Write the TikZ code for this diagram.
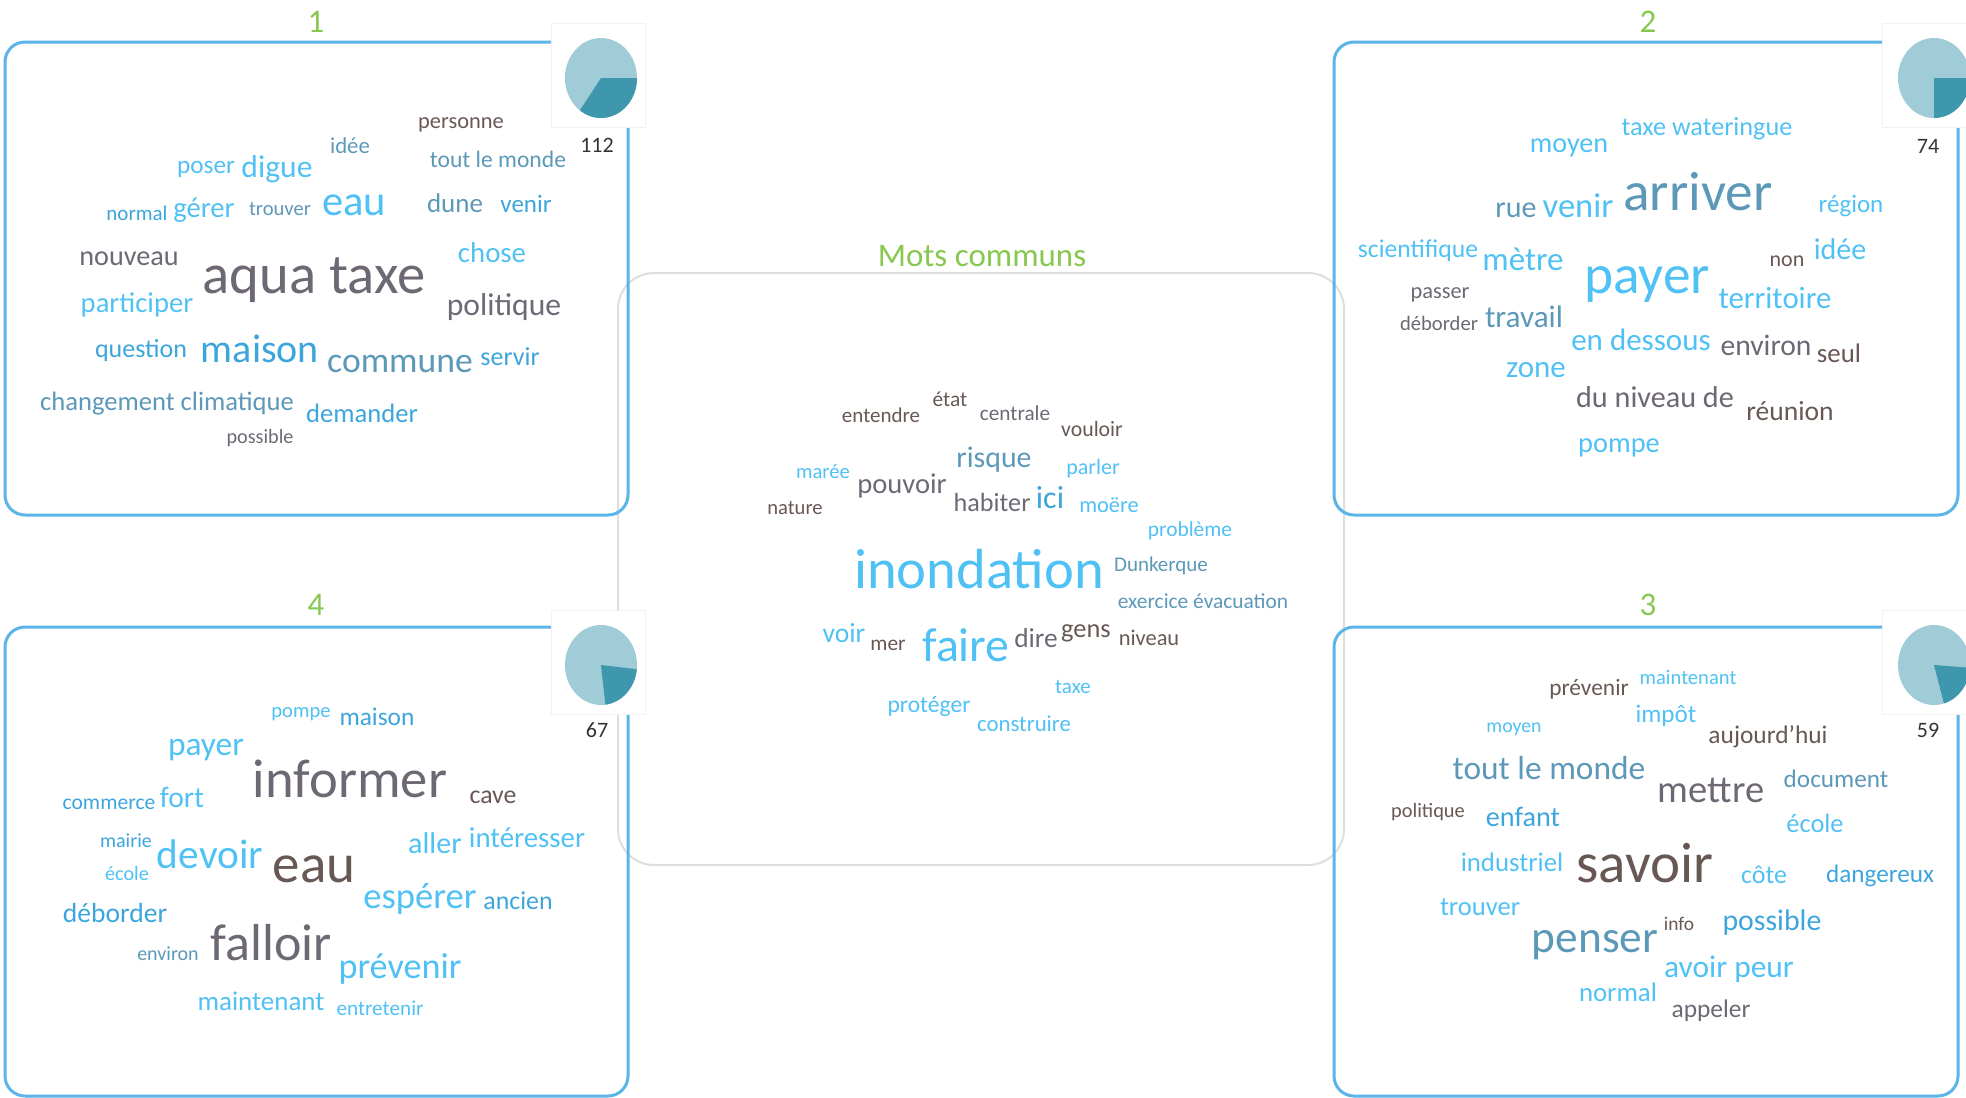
\documentclass[tikz,border=0pt]{standalone}
\usepackage{fontspec}
\setmainfont{Carlito}

\definecolor{wlight}{RGB}{79,193,244}
\definecolor{wmid}{RGB}{60,165,220}
\definecolor{wsteel}{RGB}{92,152,184}
\definecolor{wgray}{RGB}{110,104,116}
\definecolor{wbrown}{RGB}{104,88,84}
\definecolor{frame}{RGB}{91,181,232}
\definecolor{titlegreen}{RGB}{134,200,80}
\definecolor{pielight}{RGB}{160,204,216}
\definecolor{piedark}{RGB}{63,151,173}

\begin{document}
\begin{tikzpicture}[
  x=0.5pt, y=-0.5pt,
  word/.style={inner sep=0pt, anchor=base},
  cluster/.style={draw=frame, line width=1.5pt, rounded corners=10pt},
  common/.style={draw=black!13, line width=1pt, rounded corners=18pt},
  piebg/.style={fill=white, draw=black!5},
  title/.style={inner sep=0pt, anchor=base, text=titlegreen, font=\fontsize{16.5}{16.5}\selectfont},
  count/.style={inner sep=0pt, anchor=base, text=black!80, font=\fontsize{11}{11}\selectfont}
]
\clip (0,0) rectangle (1966,1098);

% Frames
\draw[common] (618,273) rectangle (1344,865);
\draw[cluster] (5,42) rectangle (628,515);
\draw[cluster] (1334,42) rectangle (1958,515);
\draw[cluster] (1334,627) rectangle (1958,1096);
\draw[cluster] (5,627) rectangle (628,1096);

% Titles
\node[title] (t1) at (316,32) {1};
\node[title] (t2) at (1648,32) {2};
\node[title] (t3) at (1648,615) {3};
\node[title] (t4) at (316,615) {4};
\node[title] (tc) at (982,266) {Mots communs};

% Pies
\fill[piebg] (551,23) rectangle (645,127);
\fill[piebg] (1882,23) rectangle (1976,127);
\fill[piebg] (1882,610) rectangle (1976,714);
\fill[piebg] (551,610) rectangle (645,714);
\foreach \px/\py/\a/\b [count=\i] in {601/78/-126/0, 1934/78/-90/0, 1934/665/-74/-4, 601/665/-83/-6} {
  \coordinate (pie\i) at (\px,\py);
  \fill[pielight] (pie\i) ellipse[x radius=18pt, y radius=20pt];
  \fill[piedark] (pie\i) -- ++(\a:18pt and 20pt) arc[start angle=\a, end angle=\b, x radius=18pt, y radius=20pt] -- cycle;
}
\node[count] (n1) at (597,152) {112};
\node[count] (n2) at (1928,153) {74};
\node[count] (n3) at (1928,737) {59};
\node[count] (n4) at (597,737) {67};

% Cluster 1
\foreach \x/\y/\s/\col/\txt [count=\i] in {
  461/128/11.2/wbrown/personne, 350/153/11.4/wsteel/idée,
  498/167/11.8/wsteel/tout le monde, 206/173/12.6/wlight/poser,
  277/177/15.8/wlight/digue, 137/220/10.5/wmid/normal,
  204/217/14.3/wlight/gérer, 280/215/10.3/wsteel/trouver,
  354/215/21.3/wlight/eau, 455/212/13.5/wsteel/dune,
  526/212/12.5/wmid/venir, 129/265/14.1/wgray/nouveau,
  314/293/28.3/wgray/aqua taxe, 492/262/14.4/wlight/chose,
  137/312/14.3/wlight/participer, 504/315/15.8/wgray/politique,
  141/357/13/wmid/question, 260/362/20/wmid/maison,
  400/372/17.8/wsteel/commune, 510/365/13/wmid/servir,
  167/410/13.3/wsteel/changement climatique, 362/422/13.3/wmid/demander,
  260/443/10.1/wgray/possible}
  \node[word, text=\col, font={\fontsize{\s}{\s}\selectfont}] (a\i) at (\x,\y) {\txt};

% Cluster 2
\foreach \x/\y/\s/\col/\txt [count=\i] in {
  1707/135/13.1/wlight/taxe wateringue, 1569/152/14.1/wlight/moyen,
  1516/217/15/wsteel/rue, 1578/217/17.3/wlight/venir,
  1698/210/27.7/wsteel/arriver, 1851/212/12.5/wlight/région,
  1418/257/12.8/wlight/scientifique, 1523/270/16.5/wlight/mètre,
  1647/293/27.7/wlight/payer, 1787/266/11/wbrown/non,
  1840/259/15/wlight/idée, 1440/298/11.2/wgray/passer,
  1439/330/10.3/wgray/déborder, 1524/327/15.6/wsteel/travail,
  1775/308/15.4/wlight/territoire, 1641/350/15.5/wlight/en dessous,
  1766/355/14.8/wgray/environ, 1839/362/13.4/wbrown/seul,
  1536/377/15.5/wlight/zone, 1655/407/15.1/wgray/du niveau de,
  1790/420/13.8/wbrown/réunion, 1619/452/14.2/wlight/pompe}
  \node[word, text=\col, font={\fontsize{\s}{\s}\selectfont}] (b\i) at (\x,\y) {\txt};

% Cluster 3
\foreach \x/\y/\s/\col/\txt [count=\i] in {
  1589/695/11.7/wbrown/prévenir, 1688/684/10.3/wlight/maintenant,
  1666/722/12.6/wlight/impôt, 1514/732/9.9/wlight/moyen,
  1768/743/12.7/wbrown/aujourd'hui, 1549/779/16.7/wsteel/tout le monde,
  1711/802/19.3/wgray/mettre, 1836/787/12.6/wsteel/document,
  1428/817/10.2/wbrown/politique, 1523/826/14.1/wmid/enfant,
  1815/832/13.2/wlight/école, 1512/871/13.4/wlight/industriel,
  1645/882/28.5/wbrown/savoir, 1764/883/13/wlight/côte,
  1880/882/12.6/wmid/dangereux, 1480/915/13.3/wlight/trouver,
  1679/930/9.7/wbrown/info, 1772/930/14.9/wmid/possible,
  1595/952/22.7/wsteel/penser, 1729/977/15.7/wlight/avoir peur,
  1618/1001/13.4/wlight/normal, 1711/1017/12.7/wgray/appeler}
  \node[word, text=\col, font={\fontsize{\s}{\s}\selectfont}] (c\i) at (\x,\y) {\txt};

% Cluster 4
\foreach \x/\y/\s/\col/\txt [count=\i] in {
  301/717/10.3/wlight/pompe, 377/725/12.7/wmid/maison,
  206/755/16.7/wlight/payer, 350/797/27.3/wgray/informer,
  493/803/12.9/wbrown/cave, 109/809/10.8/wmid/commerce,
  182/807/14.8/wlight/fort, 126/847/10/wmid/mairie,
  210/868/20.7/wlight/devoir, 127/880/10.1/wlight/école,
  314/882/27.5/wbrown/eau, 435/853/15/wlight/aller,
  527/847/14.4/wlight/intéresser, 420/908/18.3/wlight/espérer,
  518/909/12.9/wmid/ancien, 115/922/13.8/wmid/déborder,
  168/960/10/wsteel/environ, 271/960/26/wgray/falloir,
  400/978/18.1/wlight/prévenir, 261/1010/13.5/wlight/maintenant,
  380/1015/10.6/wlight/entretenir}
  \node[word, text=\col, font={\fontsize{\s}{\s}\selectfont}] (d\i) at (\x,\y) {\txt};

% Mots communs
\foreach \x/\y/\s/\col/\txt [count=\i] in {
  881/422/10.5/wbrown/entendre, 950/406/10.7/wbrown/état,
  1015/420/10.6/wgray/centrale, 1092/436/10.9/wbrown/vouloir,
  994/467/14.9/wsteel/risque, 823/478/10.3/wlight/marée,
  1093/474/11/wlight/parler, 902/493/14.3/wgray/pouvoir,
  795/514/10.3/wbrown/nature, 992/511/13.1/wgray/habiter,
  1050/508/16/wmid/ici, 1109/512/11.2/wlight/moëre,
  1190/536/10.7/wlight/problème, 979/588/28.3/wlight/inondation,
  1161/571/10.5/wsteel/Dunkerque, 1203/608/10.7/wsteel/exercice évacuation,
  844/642/13.8/wlight/voir, 888/650/10.7/wbrown/mer,
  966/661/23.9/wlight/faire, 1036/647/13.7/wgray/dire,
  1086/637/13.2/wbrown/gens, 1149/645/11.2/wbrown/niveau,
  1073/693/10.5/wlight/taxe, 929/712/11.8/wlight/protéger,
  1024/731/11.4/wlight/construire}
  \node[word, text=\col, font={\fontsize{\s}{\s}\selectfont}] (m\i) at (\x,\y) {\txt};

\end{tikzpicture}
\end{document}
